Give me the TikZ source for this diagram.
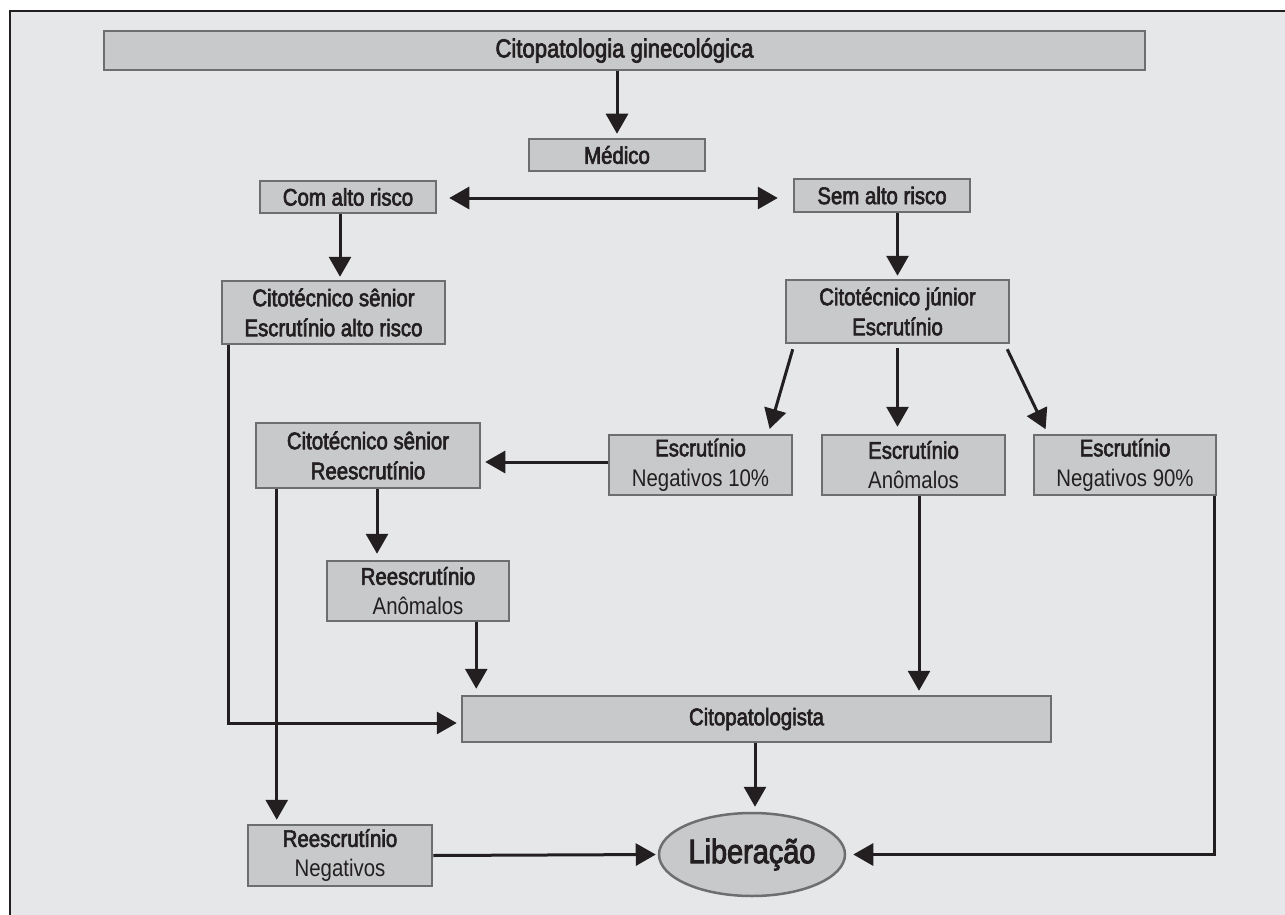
\documentclass[tikz,border=0pt]{standalone}
\usepackage{fontspec}
\setmainfont{Liberation Sans}
\newfontfamily\condfont[FakeStretch=0.85]{Liberation Sans}
\newfontfamily\condmed[FakeStretch=0.85,FakeBold=2.6]{Liberation Sans}
\usetikzlibrary{arrows.meta, shapes.geometric}

\definecolor{panelbg}{HTML}{E6E7E9}
\definecolor{boxfill}{HTML}{C8C9CB}
\definecolor{boxline}{HTML}{6D6E70}
\definecolor{inkblack}{HTML}{231F20}

\begin{document}
\begin{tikzpicture}[x=1pt, y=-1pt]
        \tikzset{
            arr/.style={-{Triangle[length=20pt,width=22pt]}, line width=3pt, draw=inkblack}, % heavy arrows
            darr/.style={{Triangle[length=20pt,width=22pt]}-{Triangle[length=20pt,width=22pt]}, line width=3pt, draw=inkblack},
            box/.style={rectangle, draw=boxline, fill=boxfill, line width=2.5pt, inner sep=0pt, align=center, text=inkblack, font=\fontsize{24}{30}\condfont}, % grey boxes
            oval/.style={ellipse, draw=boxline, fill=boxfill, line width=2.5pt, inner sep=0pt, text=inkblack, font=\fontsize{34}{38}\condmed},
            }

        % frame
        \useasboundingbox (0,0) rectangle (1285,915);
        \fill[panelbg] (10,11) rectangle (1290,920);
        \draw[inkblack, line width=1.5pt] (10,920) -- (10,11) -- (1290,11);

        % nodes
        \node[box, minimum width=1041pt, minimum height=39pt, font=\fontsize{26}{30}\condfont] (citologia) at (624.5,50.5) {\condmed Citopatologia ginecológica};
        \node[box, minimum width=176pt, minimum height=32pt] (medico) at (617,155) {\condmed Médico};
        \node[box, minimum width=176pt, minimum height=32pt] (com_risco) at (348,197) {\condmed Com alto risco};
        \node[box, minimum width=176pt, minimum height=33pt] (sem_risco) at (882,195.5) {\condmed Sem alto risco};
        \node[box, minimum width=223pt, minimum height=63pt] (senior_alto) at (333.5,312.5) {\condmed Citotécnico sênior\\\condmed Escrutínio alto risco};
        \node[box, minimum width=223pt, minimum height=63pt] (junior) at (897.5,311.5) {\condmed Citotécnico júnior\\\condmed Escrutínio};
        \node[box, minimum width=183pt, minimum height=60pt] (neg_dez) at (700.5,465) {\condmed Escrutínio\\Negativos 10\%};
        \node[box, minimum width=183pt, minimum height=60pt] (anomalos) at (913.5,465) {\condmed Escrutínio\\Anômalos};
        \node[box, minimum width=182pt, minimum height=60pt] (neg_noventa) at (1125,465) {\condmed Escrutínio\\Negativos 90\%};
        \node[box, minimum width=224pt, minimum height=65pt] (senior_re) at (368,455.5) {\condmed Citotécnico sênior\\\condmed Reescrutínio};
        \node[box, minimum width=182pt, minimum height=60pt] (re_anomalos) at (418,591) {\condmed Reescrutínio\\Anômalos};
        \node[box, minimum width=589pt, minimum height=46pt] (citopatologista) at (756.5,719) {\condmed Citopatologista};
        \node[box, minimum width=184pt, minimum height=61pt] (re_negativos) at (340,855.5) {\condmed Reescrutínio\\Negativos};
        \node[oval, minimum width=186pt, minimum height=83pt] (liberacao) at (752,854.5) {Liberação};

        % top paths
        \draw[arr, shorten >=4pt] (citologia.south -| medico.north) -- (medico.north);
        \draw[darr, shorten <=12pt, shorten >=15pt] ([yshift=-1pt]com_risco.east) -- ([yshift=-1pt]com_risco.east -| sem_risco.west);
        \draw[arr, shorten >=3pt] ([xshift=-8pt]com_risco.south) -- ([xshift=-8pt]com_risco.south |- senior_alto.north);
        \draw[arr, shorten >=3pt] (sem_risco.south -| junior.north) -- (junior.north);

        % junior paths
        \draw[arr, shorten >=5pt] ([xshift=8pt, yshift=-5pt]junior.south west) -- ([xshift=-25pt]neg_dez.north east);
        \draw[arr, shorten <=4pt, shorten >=7pt] (junior.south) -- (junior.south |- anomalos.north);
        \draw[arr, shorten >=5pt] ([xshift=-3pt, yshift=-5pt]junior.south east) -- ([xshift=15pt]neg_noventa.north west);

        % reescrutinio paths
        \draw[arr, shorten >=4pt] ([yshift=3pt]neg_dez.west) -- ([yshift=3pt]neg_dez.west -| senior_re.east);
        \draw[arr, shorten >=6pt] ([xshift=9pt]senior_re.south) -- ([xshift=9pt]senior_re.south |- re_anomalos.north);
        \draw[arr, shorten >=4pt] ([xshift=22pt]senior_re.south west) -- ([xshift=22pt]senior_re.south west |- re_negativos.north);

        % citopatologista paths
        \draw[arr, shorten >=6pt] ([xshift=-34pt]re_anomalos.south east) -- ([xshift=-34pt]re_anomalos.south east |- citopatologista.north);
        \draw[arr, shorten >=4pt] ([xshift=5.5pt]anomalos.south) -- ([xshift=5.5pt]anomalos.south |- citopatologista.north);
        \draw[arr, shorten >=4pt] ([xshift=8pt]senior_alto.south west) |- ([yshift=-4pt]citopatologista.west);

        % liberacao paths
        \draw[arr, shorten >=5pt] ([xshift=-1.5pt]citopatologista.south) -- ([xshift=-1.5pt]citopatologista.south |- liberacao.north);
        \draw[arr, shorten >=2pt] (re_negativos.east) -- (liberacao.west);
        \draw[arr, shorten >=7pt] ([xshift=-3pt]neg_noventa.south east) |- (liberacao.east);
\end{tikzpicture}
\end{document}
